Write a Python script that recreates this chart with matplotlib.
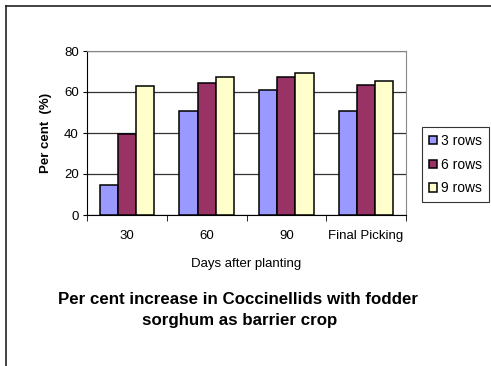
import matplotlib.pyplot as plt
import numpy as np

categories = ["30", "60", "90", "Final Picking"]
series_names = ["3 rows", "6 rows", "9 rows"]
rows3 = [14.8, 50.5, 61.0, 50.5]
rows6 = [39.5, 64.5, 67.5, 63.5]
rows9 = [62.7, 67.5, 69.2, 65.5]
colors = ["#9999FF", "#993366", "#FFFFCC"]

plt.rcParams["font.family"] = ["Liberation Sans", "DejaVu Sans"]

W, H = 491, 366
fig = plt.figure(figsize=(W / 100, H / 100), dpi=100)

# plot area in pixels: left 87, right 406, top 51, bottom 215
ax = fig.add_axes([87 / W, 1 - 215 / H, (406 - 87) / W, (215 - 51) / H])

x = np.arange(len(categories))
bw = 0.227
for i, vals in enumerate([rows3, rows6, rows9]):
    ax.bar(x + (i - 1) * bw, vals, bw, color=colors[i], edgecolor="black",
           linewidth=1.1, label=series_names[i], zorder=3)

ax.set_xlim(-0.5, len(categories) - 0.5)
ax.set_ylim(0, 80)
ax.set_yticks([0, 20, 40, 60, 80])
ax.yaxis.grid(True, color="#333333", linewidth=0.9, zorder=0)
ax.set_xticks(x)
ax.set_xticklabels(categories)
ax.set_xticks(np.arange(len(categories) + 1) - 0.5, minor=True)
ax.tick_params(axis="x", which="major", length=0, pad=11, labelsize=9.5)
ax.tick_params(axis="x", which="minor", length=4, color="black")
ax.tick_params(axis="y", length=3, labelsize=9.5, pad=3)
for s in ["top", "right"]:
    ax.spines[s].set_color("#888888")
for s in ["left", "bottom"]:
    ax.spines[s].set_color("black")

ax.set_ylabel("Per cent  (%)", fontsize=9.5, fontweight="bold")
ax.yaxis.label.set_va("center")
ax.yaxis.set_label_coords((46 - 87) / 319, 0.5)
ax.set_xlabel("Days after planting", fontsize=9.5)
ax.xaxis.label.set_va("center")
ax.xaxis.set_label_coords(0.5, (215 - 264) / 164)

leg = ax.legend(loc="upper left", bbox_to_anchor=(422 / W, 1 - 127 / H),
                bbox_transform=fig.transFigure, frameon=True, fancybox=False,
                fontsize=10, handlelength=0.55, handleheight=0.55,
                handletextpad=0.35, labelspacing=0.7, borderpad=0.5,
                borderaxespad=0)
leg.get_frame().set_edgecolor("black")
leg.get_frame().set_linewidth(0.8)

fig.text(238 / W, 1 - 300 / H, "Per cent increase in Coccinellids with fodder",
         ha="center", va="center", fontsize=12.2, fontweight="bold")
fig.text(240 / W, 1 - 321 / H, "sorghum as barrier crop",
         ha="center", va="center", fontsize=12.2, fontweight="bold")

# outer chart border (top and left visible)
fig.add_artist(plt.Line2D([6 / W, 1.0], [1 - 6 / H, 1 - 6 / H], color="#222222", linewidth=1.2))
fig.add_artist(plt.Line2D([6 / W, 6 / W], [0.0, 1 - 6 / H], color="#222222", linewidth=1.2))

fig.savefig("out.png", dpi=100)
